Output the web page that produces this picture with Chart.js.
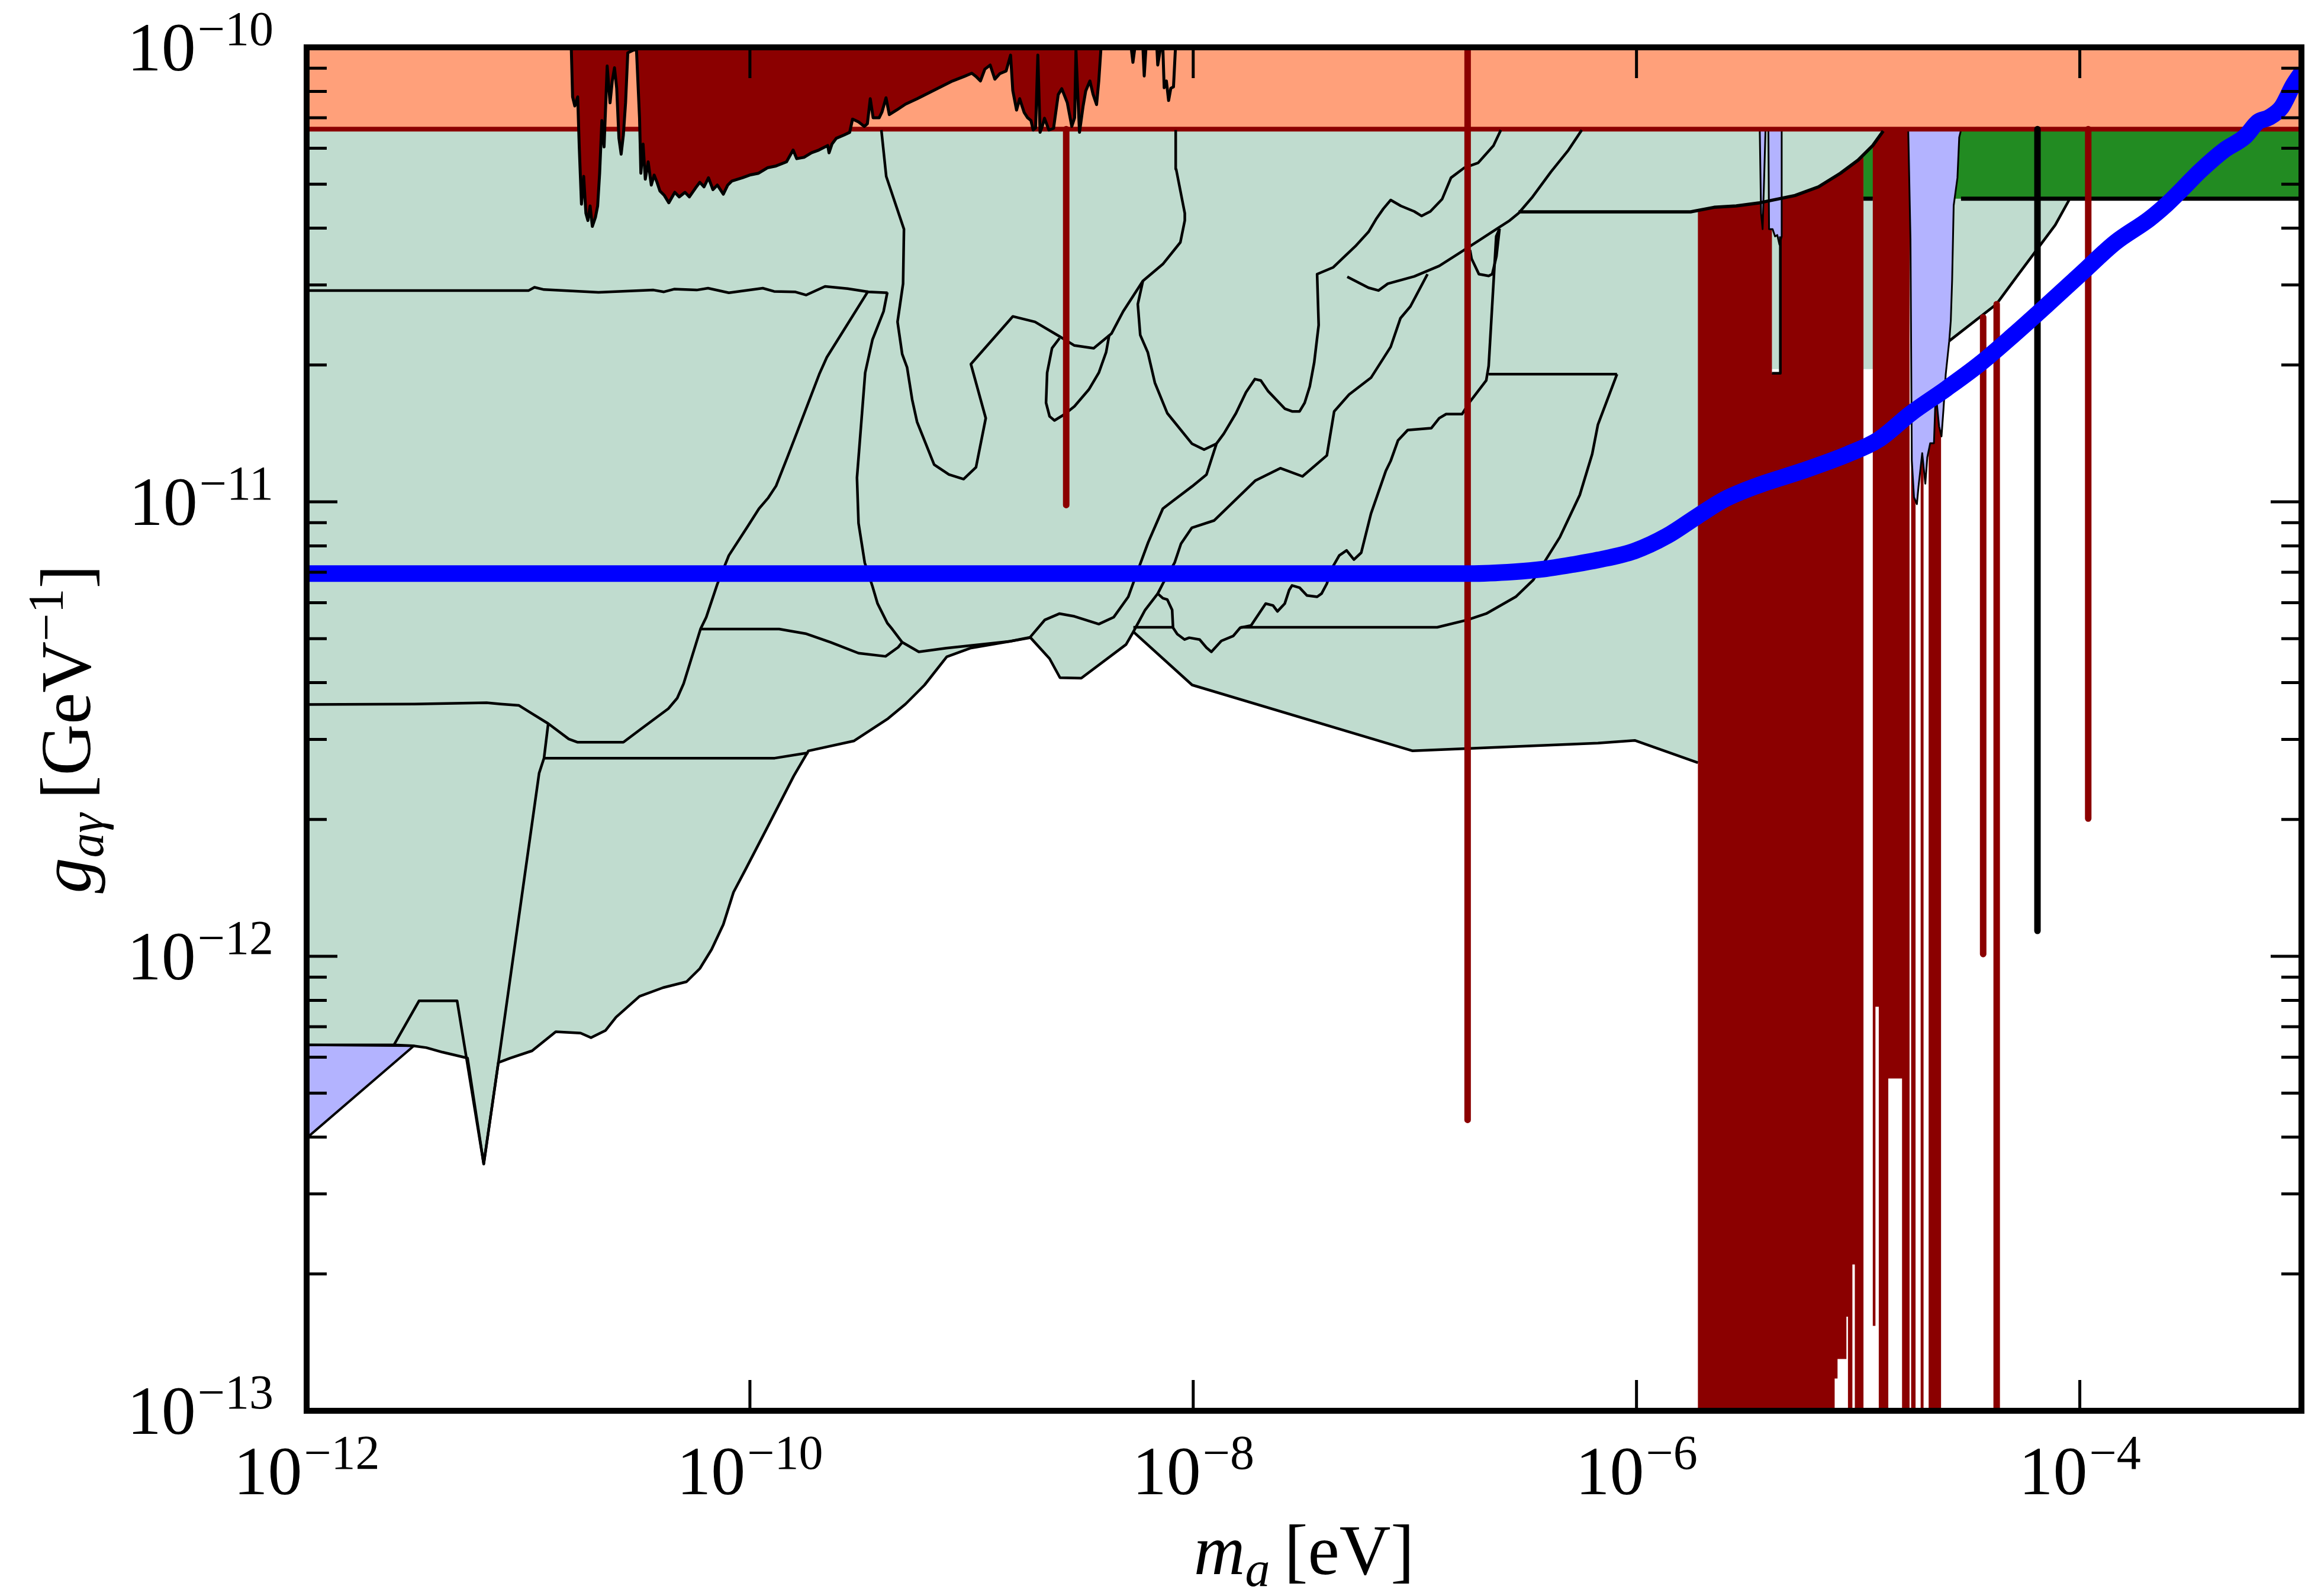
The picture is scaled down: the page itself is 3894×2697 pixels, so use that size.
<!DOCTYPE html>
<html>
<head>
<meta charset="utf-8">
<title>Axion-photon coupling limits</title>
<script src="https://cdn.jsdelivr.net/npm/chart.js@4.4.1/dist/chart.umd.min.js"></script>
<style>
  html, body { margin: 0; padding: 0; background: #fff; }
  canvas { display: block; }
</style>
</head>
<body>
<canvas id="limits" width="3894" height="2697"></canvas>
<script>
// every pair below is [log10(m_a / eV), log10(g_agamma / GeV^-1)]
const massRange = [-12, -3];
const couplingRange = [-13, -10];
const xTickExps = [-12, -10, -8, -6, -4];
const yTickExps = [-13, -12, -11, -10];

const castLimit = -10.18;
const greenBandFloor = -10.333;

// lower edge of the combined light-green exclusion
const greenLowerEdge = [
  [-12, -12.195], [-11.606, -12.195], [-11.520, -12.197], [-11.460, -12.201], [-11.387, -12.211],
  [-11.274, -12.224], [-11.201, -12.457], [-11.135, -12.234], [-11.082, -12.224], [-10.983, -12.208],
  [-10.876, -12.166], [-10.764, -12.169], [-10.717, -12.179], [-10.651, -12.163], [-10.604, -12.134],
  [-10.498, -12.088], [-10.392, -12.069], [-10.286, -12.056], [-10.226, -12.027], [-10.173, -11.985],
  [-10.120, -11.930], [-10.074, -11.859], [-10.021, -11.810], [-9.921, -11.716], [-9.802, -11.603],
  [-9.736, -11.548], [-9.530, -11.526], [-9.377, -11.477], [-9.298, -11.445], [-9.212, -11.403],
  [-9.112, -11.341], [-9.006, -11.322], [-8.827, -11.307], [-8.734, -11.299], [-8.648, -11.345],
  [-8.601, -11.387], [-8.505, -11.388], [-8.303, -11.314], [-8.270, -11.286], [-8.005, -11.403],
  [-7.010, -11.548], [-6.174, -11.531], [-6.008, -11.525], [-5.723, -11.574]
];
const greenRightEdge = [
  [-5.710, -11.574], [-5.710, -10.708], [-4.930, -10.708], [-4.930, -10.381], [-4.589, -10.381],
  [-4.589, -10.646], [-4.376, -10.565], [-4.284, -10.504], [-4.111, -10.391], [-4.045, -10.333],
  [-3, -10.333]
];

// internal boundaries of the individual limits
const curveA = [
  [-12, -10.535], [-10.998, -10.535], [-10.972, -10.528], [-10.929, -10.533], [-10.683, -10.539],
  [-10.435, -10.534], [-10.388, -10.538], [-10.342, -10.532], [-10.240, -10.534], [-10.189, -10.530],
  [-10.095, -10.540], [-9.942, -10.530], [-9.891, -10.537], [-9.797, -10.538], [-9.746, -10.545],
  [-9.661, -10.526], [-9.559, -10.531], [-9.465, -10.538], [-9.379, -10.540]
];
const curveB = [
  [-12, -11.446], [-11.513, -11.445], [-11.188, -11.442], [-11.124, -11.445], [-11.042, -11.448],
  [-10.983, -11.466], [-10.910, -11.488], [-10.817, -11.522], [-10.777, -11.529], [-10.571, -11.529],
  [-10.492, -11.500], [-10.368, -11.455], [-10.328, -11.432], [-10.299, -11.400], [-10.223, -11.280],
  [-10.197, -11.254], [-10.147, -11.181], [-10.095, -11.118], [-10.010, -11.054], [-9.959, -11.015],
  [-9.917, -10.991], [-9.882, -10.965], [-9.831, -10.902], [-9.789, -10.849], [-9.687, -10.719],
  [-9.653, -10.682], [-9.466, -10.536]
];
const curveC = [
  [-9.380, -10.539], [-9.397, -10.581], [-9.447, -10.643], [-9.480, -10.716], [-9.517, -10.947],
  [-9.510, -11.047], [-9.482, -11.134], [-9.447, -11.186], [-9.424, -11.224], [-9.380, -11.267],
  [-9.358, -11.280], [-9.313, -11.309], [-9.238, -11.330], [-9.114, -11.322], [-8.827, -11.307],
  [-8.736, -11.298], [-8.670, -11.260], [-8.603, -11.246], [-8.536, -11.252], [-8.426, -11.269],
  [-8.359, -11.254], [-8.293, -11.209], [-8.250, -11.151], [-8.203, -11.089], [-8.137, -11.015],
  [-8.097, -11.000], [-8.005, -10.966], [-7.940, -10.940], [-7.895, -10.872], [-7.862, -10.850],
  [-7.807, -10.805], [-7.762, -10.759], [-7.722, -10.730], [-7.695, -10.733], [-7.663, -10.756],
  [-7.587, -10.795], [-7.554, -10.801], [-7.520, -10.801], [-7.497, -10.782], [-7.474, -10.746],
  [-7.454, -10.693], [-7.434, -10.611], [-7.441, -10.499], [-7.368, -10.484], [-7.315, -10.459],
  [-7.265, -10.436], [-7.209, -10.406], [-7.175, -10.378], [-7.142, -10.355], [-7.109, -10.336],
  [-7.063, -10.349], [-7.003, -10.361], [-6.970, -10.371], [-6.930, -10.361], [-6.877, -10.334],
  [-6.837, -10.287], [-6.777, -10.265], [-6.714, -10.254], [-6.645, -10.216], [-6.612, -10.182]
];
const curveC1 = [
  [-9.407, -10.182], [-9.385, -10.284], [-9.305, -10.400], [-9.309, -10.520], [-9.334, -10.604],
  [-9.313, -10.675], [-9.291, -10.704], [-9.268, -10.775], [-9.246, -10.824], [-9.169, -10.918],
  [-9.102, -10.940], [-9.036, -10.950], [-8.980, -10.924], [-8.936, -10.816], [-9.003, -10.697],
  [-8.814, -10.592], [-8.714, -10.604], [-8.603, -10.636], [-8.536, -10.656], [-8.449, -10.662],
  [-8.369, -10.630], [-8.316, -10.581], [-8.227, -10.514], [-8.137, -10.477], [-8.058, -10.429],
  [-8.038, -10.381], [-8.038, -10.365], [-8.077, -10.268], [-8.079, -10.182]
];
const curveC2 = [
  [-8.603, -10.640], [-8.637, -10.662], [-8.659, -10.716], [-8.664, -10.782], [-8.648, -10.812],
  [-8.626, -10.821], [-8.582, -10.808], [-8.536, -10.790], [-8.471, -10.753], [-8.426, -10.716],
  [-8.393, -10.671], [-8.379, -10.633]
];
const curveC3 = [
  [-8.227, -10.514], [-8.250, -10.565], [-8.239, -10.633], [-8.205, -10.671], [-8.173, -10.738],
  [-8.117, -10.805], [-8.006, -10.872], [-7.951, -10.885], [-7.895, -10.872]
];
const curveC4 = [
  [-6.247, -10.182], [-6.307, -10.226], [-6.386, -10.274], [-6.469, -10.329], [-6.532, -10.365],
  [-6.572, -10.381], [-6.632, -10.400], [-6.714, -10.426], [-6.797, -10.452], [-6.890, -10.481],
  [-7.003, -10.504], [-7.122, -10.520], [-7.164, -10.535], [-7.209, -10.529], [-7.305, -10.505]
];
const curveLoop = [
  [-6.751, -10.446], [-6.744, -10.465], [-6.711, -10.499], [-6.667, -10.503], [-6.651, -10.499],
  [-6.632, -10.460], [-6.618, -10.399]
];
const curveC5 = [
  [-6.618, -10.399], [-6.633, -10.416], [-6.667, -10.701], [-6.678, -10.733], [-6.755, -10.782],
  [-6.787, -10.807], [-6.859, -10.807], [-6.890, -10.816], [-6.926, -10.838], [-7.032, -10.842],
  [-7.076, -10.865], [-7.109, -10.910], [-7.131, -10.932], [-7.198, -11.026], [-7.242, -11.112],
  [-7.275, -11.127], [-7.308, -11.107], [-7.341, -11.118], [-7.374, -11.146], [-7.397, -11.180],
  [-7.421, -11.202], [-7.441, -11.209], [-7.487, -11.206], [-7.520, -11.189], [-7.554, -11.184],
  [-7.567, -11.194], [-7.587, -11.224], [-7.620, -11.241], [-7.640, -11.228], [-7.673, -11.224],
  [-7.739, -11.272], [-7.788, -11.277], [-7.819, -11.295], [-7.873, -11.306], [-7.918, -11.330],
  [-7.940, -11.321], [-7.971, -11.303], [-8.018, -11.299], [-8.039, -11.303], [-8.072, -11.291],
  [-8.091, -11.277], [-8.095, -11.238], [-8.117, -11.215], [-8.137, -11.212], [-8.160, -11.202],
  [-8.137, -11.180], [-8.084, -11.134], [-8.055, -11.092], [-8.006, -11.057], [-7.905, -11.041],
  [-7.719, -10.953], [-7.607, -10.926], [-7.507, -10.944], [-7.397, -10.898], [-7.364, -10.801],
  [-7.297, -10.764], [-7.198, -10.727], [-7.109, -10.659], [-7.065, -10.596], [-7.020, -10.570],
  [-6.943, -10.499]
];
const curveBranch = [[-8.160, -11.202], [-8.217, -11.238], [-8.270, -11.286]];
const curveC6 = [[-6.667, -10.719], [-6.088, -10.719]];
const curveC7 = [
  [-6.088, -10.719], [-6.174, -10.830], [-6.200, -10.895], [-6.256, -10.985], [-6.346, -11.078],
  [-6.466, -11.172], [-6.545, -11.209], [-6.678, -11.246], [-6.764, -11.260], [-6.899, -11.276],
  [-7.786, -11.276]
];
const curveC8 = [[-8.270, -11.276], [-8.095, -11.276]];
const curveD = [
  [-10.222, -11.280], [-9.868, -11.280], [-9.749, -11.290], [-9.636, -11.309], [-9.510, -11.333],
  [-9.388, -11.340], [-9.331, -11.320], [-9.313, -11.309]
];
const curveH = [[-10.929, -11.564], [-9.888, -11.564], [-9.736, -11.552]];
const curveSpike = [
  [-10.910, -11.488], [-10.929, -11.564], [-10.951, -11.597], [-11.135, -12.234], [-11.201, -12.457],
  [-11.321, -12.098], [-11.493, -12.098], [-11.606, -12.195]
];
const upperRightEdge = [
  [-6.532, -10.362], [-5.756, -10.362], [-5.650, -10.352], [-5.550, -10.349], [-5.444, -10.342],
  [-5.285, -10.326], [-5.179, -10.307], [-5.080, -10.277], [-5.000, -10.248], [-4.934, -10.216],
  [-4.887, -10.184]
];
const notchEdge = [[-5.389, -10.717], [-5.351, -10.717], [-5.351, -10.416]];

// forest-green band
const greenBand = [
  [-4.976, -10.333], [-4.976, -10.237], [-4.934, -10.216], [-4.887, -10.184], [-4.880, -10.18],
  [-3, -10.18], [-3, -10.333]
];

// dark red haloscope scans
const darkRedTop = [
  [-10.806, -10.000], [-10.800, -10.109], [-10.790, -10.129], [-10.777, -10.109], [-10.770, -10.219],
  [-10.760, -10.345], [-10.750, -10.284], [-10.740, -10.365], [-10.731, -10.381], [-10.721, -10.349],
  [-10.711, -10.394], [-10.697, -10.374], [-10.687, -10.349], [-10.678, -10.277], [-10.668, -10.161],
  [-10.658, -10.219], [-10.644, -10.041], [-10.631, -10.122], [-10.621, -10.074], [-10.611, -10.045],
  [-10.601, -10.090], [-10.591, -10.200], [-10.581, -10.235], [-10.571, -10.193], [-10.561, -10.122],
  [-10.551, -10.012], [-10.512, -10.003], [-10.498, -10.155], [-10.492, -10.277], [-10.482, -10.213],
  [-10.472, -10.290], [-10.459, -10.252], [-10.445, -10.303], [-10.432, -10.281], [-10.419, -10.297],
  [-10.406, -10.316], [-10.386, -10.326], [-10.366, -10.342], [-10.339, -10.319], [-10.319, -10.329],
  [-10.293, -10.319], [-10.273, -10.329], [-10.246, -10.310], [-10.226, -10.297], [-10.207, -10.307],
  [-10.187, -10.287], [-10.167, -10.313], [-10.147, -10.303], [-10.120, -10.323], [-10.100, -10.303],
  [-10.081, -10.294], [-10.034, -10.287], [-10.001, -10.281], [-9.961, -10.277], [-9.921, -10.265],
  [-9.882, -10.261], [-9.835, -10.252], [-9.805, -10.226], [-9.789, -10.245], [-9.756, -10.242],
  [-9.722, -10.232], [-9.689, -10.226], [-9.649, -10.216], [-9.643, -10.232], [-9.630, -10.213],
  [-9.610, -10.200], [-9.576, -10.193], [-9.550, -10.187], [-9.537, -10.158], [-9.510, -10.164],
  [-9.484, -10.174], [-9.470, -10.168], [-9.457, -10.113], [-9.444, -10.155], [-9.417, -10.155],
  [-9.404, -10.142], [-9.386, -10.111], [-9.371, -10.148], [-9.338, -10.138], [-9.298, -10.125],
  [-9.245, -10.113], [-9.192, -10.100], [-9.139, -10.087], [-9.086, -10.074], [-9.033, -10.064],
  [-8.999, -10.057], [-8.980, -10.064], [-8.960, -10.074], [-8.940, -10.048], [-8.916, -10.039],
  [-8.895, -10.070], [-8.873, -10.058], [-8.844, -10.052], [-8.824, -10.017], [-8.814, -10.095],
  [-8.797, -10.138], [-8.783, -10.113], [-8.763, -10.143], [-8.747, -10.155], [-8.732, -10.161],
  [-8.722, -10.182], [-8.711, -10.177], [-8.701, -10.017], [-8.691, -10.187], [-8.681, -10.174],
  [-8.671, -10.156], [-8.651, -10.182], [-8.630, -10.178], [-8.609, -10.104], [-8.593, -10.091],
  [-8.568, -10.122], [-8.548, -10.174], [-8.535, -10.155], [-8.529, -10.006], [-8.522, -10.090],
  [-8.513, -10.187], [-8.497, -10.130], [-8.485, -10.096], [-8.466, -10.074], [-8.452, -10.103],
  [-8.436, -10.126], [-8.426, -10.074], [-8.416, -10.000]
];
const topSpikes = [
  [-8.280, -10], [-8.272, -10.033], [-8.263, -10], [-8.227, -10], [-8.221, -10.063], [-8.213, -10],
  [-8.164, -10], [-8.160, -10.039], [-8.147, -10], [-8.137, -10], [-8.131, -10.089], [-8.121, -10.074],
  [-8.111, -10.117], [-8.101, -10.090], [-8.089, -10.087], [-8.080, -10]
];
const darkRedBlockA = [
  [-5.723, -13], [-5.723, -10.362], [-5.650, -10.352], [-5.550, -10.349], [-5.444, -10.342],
  [-5.389, -10.337], [-5.389, -10.717], [-5.351, -10.717], [-5.351, -10.333], [-5.285, -10.326],
  [-5.179, -10.307], [-5.080, -10.277], [-5.000, -10.248], [-4.976, -10.237], [-4.976, -13],
  [-5.015, -13], [-5.015, -12.678], [-5.026, -12.678], [-5.026, -13], [-5.046, -13],
  [-5.046, -12.793], [-5.053, -12.793], [-5.053, -12.886], [-5.093, -12.886], [-5.093, -12.929],
  [-5.106, -12.929], [-5.106, -13]
];
const darkRedBlockB = [
  [-4.934, -10.216], [-4.887, -10.184], [-4.880, -10.18], [-4.768, -10.18], [-4.768, -13],
  [-4.802, -13], [-4.802, -12.269], [-4.864, -12.269], [-4.864, -13], [-4.907, -13],
  [-4.907, -12.111], [-4.922, -12.111], [-4.922, -12.813], [-4.934, -12.813]
];
const stripMassLo = [-4.761, -4.718, -4.682];
const stripMassHi = [-4.741, -4.705, -4.626];

const redLineMass = [-8.573, -6.762, -4.436, -4.375, -3.962];
const redLineTop = [-10.18, -10.0, -10.594, -10.565, -10.18];
const redLineBottom = [-11.007, -12.360, -11.995, -13, -11.697];
const blackLineMass = [-4.191];
const blackLineTop = [-10.18];
const blackLineBottom = [-11.944];

// lavender regions
const purpleLeft = [
  [-5.444, -10.182], [-5.438, -10.365], [-5.431, -10.400], [-5.424, -10.284], [-5.418, -10.182],
  [-5.405, -10.182], [-5.402, -10.400], [-5.386, -10.400], [-5.375, -10.416], [-5.365, -10.413],
  [-5.355, -10.434], [-5.345, -10.416], [-5.345, -10.182]
];
const purpleRight = [
  [-4.774, -10.182], [-4.764, -10.422], [-4.758, -10.908], [-4.748, -10.990], [-4.735, -11.005],
  [-4.728, -10.968], [-4.711, -10.893], [-4.697, -10.960], [-4.688, -10.902], [-4.675, -10.871],
  [-4.658, -10.871], [-4.650, -10.759], [-4.635, -10.834], [-4.624, -10.856], [-4.615, -10.796],
  [-4.605, -10.720], [-4.589, -10.646], [-4.582, -10.601], [-4.576, -10.512], [-4.569, -10.348],
  [-4.552, -10.287], [-4.544, -10.198], [-4.536, -10.182]
];
const purpleCorner = [[-12, -12.195], [-11.516, -12.197], [-12, -12.40]];

// blue coupling curve
const blueLine = [
  [-12, -11.158], [-6.751, -11.158], [-6.552, -11.154], [-6.419, -11.148], [-6.287, -11.138],
  [-6.174, -11.128], [-6.008, -11.108], [-5.862, -11.075], [-5.723, -11.031], [-5.604, -10.995],
  [-5.458, -10.965], [-5.252, -10.932], [-5.046, -10.895], [-4.907, -10.863], [-4.761, -10.805],
  [-4.602, -10.751], [-4.450, -10.696], [-4.297, -10.632], [-4.144, -10.565], [-3.992, -10.497],
  [-3.839, -10.429], [-3.687, -10.378], [-3.607, -10.345], [-3.534, -10.310], [-3.455, -10.271],
  [-3.348, -10.226], [-3.256, -10.197], [-3.196, -10.164], [-3.149, -10.155], [-3.090, -10.132],
  [-3.037, -10.083], [-2.997, -10.054]
];

const LIGHT_GREEN = '#c0dccf';
const FOREST = '#228b22';
const SALMON = '#ffa07a';
const DARK_RED = '#8b0000';
const LAVENDER = '#b3b3ff';

const toXY = pts => pts.map(([m, g]) => ({ x: 10 ** m, y: 10 ** g }));

// datasets are pushed bottom layer first
const datasets = [];
function push(pts, opts) {
  datasets.push(Object.assign({
    data: toXY(pts),
    pointRadius: 0,
    pointHoverRadius: 0,
    borderWidth: 0,
    fill: false,
    tension: 0,
    borderJoinStyle: 'round',
    borderCapStyle: 'butt',
    order: 1000 - datasets.length
  }, opts));
}
const region = (pts, color, edge, edgeWidth) =>
  push(pts, { fill: 'shape', backgroundColor: color, borderColor: edge || color, borderWidth: edge ? edgeWidth : 0 });
const curve = (pts, color, width) => push(pts, { borderColor: color, borderWidth: width });

region([...greenLowerEdge, ...greenRightEdge, [-3, -10], [-12, -10]], LIGHT_GREEN);
region(greenBand, FOREST);
region(darkRedBlockA, DARK_RED);
region(darkRedBlockB, DARK_RED);
stripMassLo.forEach((lo, i) =>
  region([[lo, castLimit], [stripMassHi[i], castLimit], [stripMassHi[i], -13], [lo, -13]], DARK_RED));
region(purpleLeft, LAVENDER, '#000', 3);
region(purpleRight, LAVENDER, '#000', 3);
region(purpleCorner, LAVENDER, '#000', 4);
region([[-12, castLimit], [-3, castLimit], [-3, -10], [-12, -10]], SALMON);
curve([[-12, castLimit], [-3, castLimit]], DARK_RED, 8);
region(darkRedTop, DARK_RED, '#000', 5);
curve(topSpikes, '#000', 5);

[greenLowerEdge, curveA, curveB, curveC, curveC1, curveC2, curveC3, curveC4, curveLoop, curveC5,
 curveBranch, curveC6, curveC7, curveC8, curveD, curveH, curveSpike, greenRightEdge.slice(5, 10), notchEdge]
  .forEach(c => curve(c, '#000', 4.5));
curve(upperRightEdge, '#000', 5.5);
curve([[-4.976, greenBandFloor], [-4.934, greenBandFloor]], '#000', 7);
curve([[-4.536, greenBandFloor], [-3, greenBandFloor]], '#000', 7);

redLineMass.forEach((m, i) => curve([[m, redLineTop[i]], [m, redLineBottom[i]]], DARK_RED, 11));
blackLineMass.forEach((m, i) => curve([[m, blackLineTop[i]], [m, blackLineBottom[i]]], '#000', 11));

push(blueLine, { borderColor: '#0000ff', borderWidth: 28, cubicInterpolationMode: 'monotone' });

const SERIF = '"Liberation Serif", "DejaVu Serif", serif';
const TICK_FONT = '116px ' + SERIF;
const SUP_FONT = '82px ' + SERIF;
const TITLE_FONT = '120px ' + SERIF;
const TITLE_IT = 'italic 120px ' + SERIF;
const SUB_IT = 'italic 84px ' + SERIF;
const SUB_RM = '84px ' + SERIF;

// runs of [text, font, baseline shift], laid out left to right around a centre
function drawRuns(ctx, runs, cx, base) {
  const widths = runs.map(([t, f]) => { ctx.font = f; return ctx.measureText(t).width; });
  let x = cx - widths.reduce((s, w) => s + w, 0) / 2;
  runs.forEach(([t, f, dy], i) => {
    ctx.font = f;
    ctx.fillText(t, x, base + (dy || 0));
    x += widths[i];
  });
}

function powerLabel(ctx, exp, x, base, align) {
  const sup = '\u2212' + Math.abs(exp);
  ctx.font = TICK_FONT;
  const w1 = ctx.measureText('10').width;
  ctx.font = SUP_FONT;
  const w2 = ctx.measureText(sup).width;
  const gap = 3;
  const left = align === 'right' ? x - w1 - gap - w2 : x - (w1 + gap + w2) / 2;
  ctx.font = TICK_FONT;
  ctx.fillText('10', left, base);
  ctx.font = SUP_FONT;
  ctx.fillText(sup, left + w1 + gap, base - 43);
}

const axesDecor = {
  id: 'axesDecor',
  afterDatasetsDraw(chart) {
    const { ctx, chartArea: a } = chart;
    const xs = chart.scales.x, ys = chart.scales.y;
    ctx.save();
    ctx.strokeStyle = '#000';
    ctx.lineWidth = 5;
    ctx.beginPath();
    for (let e = couplingRange[0]; e < couplingRange[1]; e++) {
      for (let k = 2; k <= 9; k++) {
        const py = ys.getPixelForValue(k * 10 ** e);
        ctx.moveTo(a.left, py); ctx.lineTo(a.left + 34, py);
        ctx.moveTo(a.right, py); ctx.lineTo(a.right - 34, py);
      }
    }
    yTickExps.forEach(e => {
      const py = ys.getPixelForValue(10 ** e);
      ctx.moveTo(a.left, py); ctx.lineTo(a.left + 52, py);
      ctx.moveTo(a.right, py); ctx.lineTo(a.right - 52, py);
    });
    xTickExps.forEach(e => {
      const px = xs.getPixelForValue(10 ** e);
      ctx.moveTo(px, a.bottom); ctx.lineTo(px, a.bottom - 52);
      ctx.moveTo(px, a.top); ctx.lineTo(px, a.top + 52);
    });
    ctx.stroke();
    ctx.lineWidth = 10;
    ctx.strokeRect(a.left, a.top, a.right - a.left, a.bottom - a.top);

    ctx.fillStyle = '#000';
    ctx.textAlign = 'left';
    ctx.textBaseline = 'alphabetic';
    yTickExps.forEach(e => powerLabel(ctx, e, a.left - 56, ys.getPixelForValue(10 ** e) + 39, 'right'));
    xTickExps.forEach(e => powerLabel(ctx, e, xs.getPixelForValue(10 ** e), a.bottom + 141, 'center'));

    drawRuns(ctx, [['m', TITLE_IT], ['a', SUB_IT, 20], ['\u2009[eV]', TITLE_FONT]],
      (a.left + a.right) / 2, a.bottom + 276);

    ctx.translate(a.left - 366, (a.top + a.bottom) / 2);
    ctx.rotate(-Math.PI / 2);
    drawRuns(ctx, [['g', TITLE_IT], ['a\u03b3', SUB_IT, 22], ['\u2009[GeV', TITLE_FONT],
      ['\u22121', SUB_RM, -46], [']', TITLE_FONT]], 0, 0);
    ctx.restore();
  }
};

new Chart(document.getElementById('limits'), {
  type: 'line',
  data: { datasets },
  options: {
    responsive: false,
    animation: false,
    devicePixelRatio: 1,
    events: [],
    layout: { padding: { left: 518, top: 80, right: 6, bottom: 313 } },
    plugins: { legend: { display: false }, tooltip: { enabled: false } },
    scales: {
      x: { type: 'logarithmic', display: false, bounds: 'data', min: 10 ** massRange[0], max: 10 ** massRange[1] },
      y: { type: 'logarithmic', display: false, bounds: 'data', min: 10 ** couplingRange[0], max: 10 ** couplingRange[1] }
    }
  },
  plugins: [axesDecor]
});
</script>
</body>
</html>
